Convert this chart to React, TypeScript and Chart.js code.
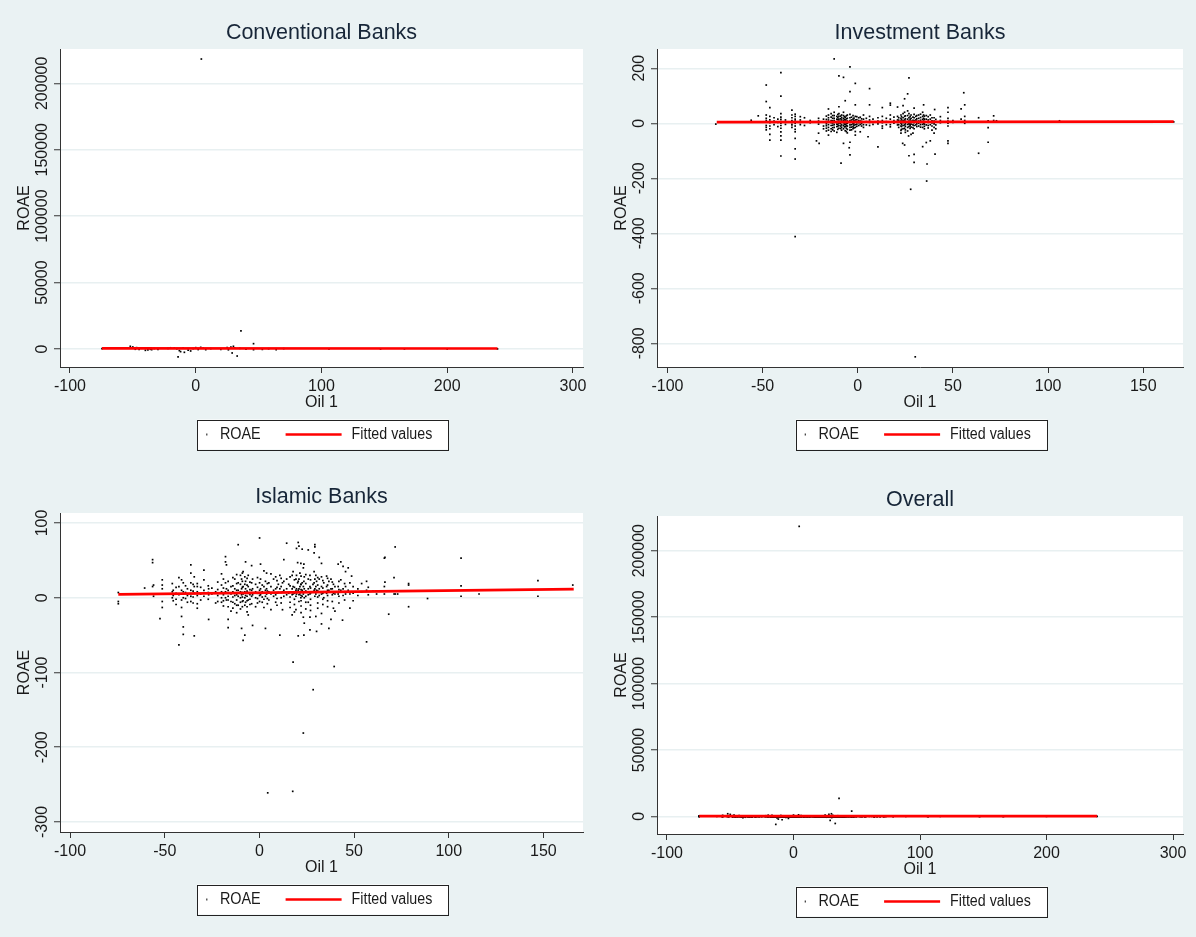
import React, { useEffect, useRef } from "react";
import { Chart, registerables } from "chart.js";

Chart.register(...registerables);

// ---------------- tick labels ----------------
const wideOilTicks = [-100, 0, 100, 200, 300];
const narrowOilTicks = [-100, -50, 0, 50, 100, 150];
const bigRoaeTicks = [0, 50000, 100000, 150000, 200000];
const investmentRoaeTicks = [-800, -600, -400, -200, 0, 200];
const islamicRoaeTicks = [-300, -200, -100, 0, 100];

// ---------------- observations: [Oil 1, [ROAE values]] ----------------
const conventionalObs: [number, number[]][] = [
  [-74.5, [300]], [-56, [800]], [-52, [2000]], [-50, [1500]], [-48, [500, -200]],
  [-47, [1000]], [-45, [-300]], [-43, [600]], [-40, [-1000]], [-38, [-600]],
  [-36, [-200]], [-35, [-500]], [-33, [400]], [-30, [-400]], [-22, [500]],
  [-20, [900]], [-17, [800]], [-15, [200]], [-14, [-6000]], [-13, [-1200]],
  [-12, [-2000]], [-10, [700]], [-9, [-2500]], [-6, [-800]], [-4, [-1500]],
  [-2, [300]], [0, [1000]], [2, [-400]], [4, [1200]], [4.5, [218300]],
  [6, [600]], [8, [-500]], [12, [300]], [20, [-300]], [25, [1000]],
  [26, [-600]], [28, [1500]], [29, [-3000]], [30, [2000]], [31, [800]],
  [33, [-5300]], [35, [500]], [36, [13600]], [40, [-200]], [46, [4000, -500]],
  [53, [-300]], [58, [200]], [64, [-500]], [70, [300]], [106, [100]],
  [147, [50]], [166, [80]], [200, [40]], [240, [60]],
];

const investmentObs: [number, number[]][] = [
  [-74.6, [-3]],
  [-56, [11, 5]],
  [-52.3, [27]],
  [-48.1, [139, 79, 30, 18, 10, 5, -8, -15, -24]],
  [-46.2, [57, 25, 12, 2, -10, -20, -40, -61]],
  [-44, [20, 8, -5]],
  [-42, [15, 3, -12]],
  [-40.4, [184, 99, 35, 22, 14, 6, 0, -8, -18, -31, -46, -61, -119]],
  [-38, [12, -4]],
  [-34.6, [48, 30, 20, 10, 2, -6, -15]],
  [-32.9, [33, 25, 15, 8, 0, -10, -22, -31, -55, -93, -130, -412]],
  [-30.2, [24, 12, 3, -5]],
  [-28, [20, 5, -8]],
  [-25, [10, 2]],
  [-21.7, [-64]],
  [-20.6, [18, 8, -3, -36]],
  [-20.3, [-73]],
  [-18, [15, 5, -10, -20]],
  [-16.5, [26, 14, 6, -2, -9, -18, -28]],
  [-15.4, [52, 30, 20, 12, 5, -5, -15, -25, -43]],
  [-14, [35, 22, 10, 2, -8, -20, -30]],
  [-13.2, [28, 18, 9, 1, -7, -16, -24]],
  [-12.4, [234, 40, 28, 18, 10, 3, -5, -15, -28]],
  [-11, [25, 15, 6, -3, -12, -33]],
  [-10.5, [32, 21, 13, 5, -4, -11, -22]],
  [-9.9, [172, 60, 35, 25, 15, 8, 0, -8, -18]],
  [-9, [26, 16, 7, -1, -10, -19]],
  [-8.8, [-145]],
  [-8.5, [30, 20, 12, 4, -6, -15, -25]],
  [-7.5, [167, 40, 28, 18, 10, 2, -8, -20, -73]],
  [-7, [24, 14, 6, -3, -13]],
  [-6.6, [82, 22, 12, 5, -4, -12, -27]],
  [-6, [27, 16, 7, -2, -9, -18, -30]],
  [-5.5, [30, 18, 8, 0, -10, -22, -35]],
  [-4.5, [-89]],
  [-4.1, [205, 115, 32, 20, 10, 3, -6, -15, -25, -69, -115]],
  [-3.3, [22, 12, 4, -5, -14, -24]],
  [-2.5, [28, 15, 6, -2, -12, -20]],
  [-2, [19, 9, 1, -7, -17]],
  [-1.3, [145, 67, 25, 12, 4, -5, -15, -30, -43]],
  [-0.5, [24, 13, 5, -3, -11]],
  [0.5, [20, 10, 2, -8]],
  [1.3, [22, 8, -4, -31]],
  [2, [16, 7, -1, -10]],
  [3, [30, 15, 5, -5, -15]],
  [4.5, [18, 6, -6]],
  [5.4, [-49]],
  [6.2, [126, 67, 25, 12, 3, -8]],
  [8, [15, 4, -4]],
  [10.6, [20, 8, -2, -86]],
  [12.9, [57, 25, 10, 2, -10, -18]],
  [15, [18, 6, -5]],
  [17.1, [73, 66, 30, 15, 5, -5, -13]],
  [19, [22, 10, 0]],
  [20.9, [59, 25, 12, 3, -6]],
  [21.5, [20, 11, 4, -5, -15]],
  [22.7, [30, 18, 8, 0, -10, -26, -36]],
  [23, [24, 13, 5, -4, -12, -22]],
  [23.6, [-73]],
  [23.8, [64, 35, 20, 10, 2, -8, -20]],
  [24.6, [89, 40, 25, 12, 4, -6, -18, -79]],
  [25, [27, 16, 7, -2, -11, -24, -33]],
  [26.2, [107, 45, 28, 15, 6, -4, -15, -28]],
  [26.7, [-46]],
  [26.9, [165, 35, 20, 8, -2, -12, -118]],
  [27.5, [25, 14, 6, -4, -9, -19]],
  [27.8, [-240]],
  [28, [30, 18, 8, -3, -14, -40]],
  [29, [22, 11, 3, -6, -16, -36]],
  [29.6, [55, 32, 20, 10, 2, -8, -20, -113, -142]],
  [30.2, [-849]],
  [30.5, [25, 12, 4, -6]],
  [31, [28, 16, 7, -2, -12]],
  [32, [30, 18, 8, 0, -10]],
  [33, [33, 21, 11, 3, -5, -14]],
  [34.1, [40, 25, 14, 5, -4, -15, -85]],
  [34.6, [67, 30, 18, 8, 0]],
  [35, [26, 15, 6, -3, -11, -20]],
  [36, [28, 15, 5, -6, -70]],
  [36.2, [-210]],
  [36.4, [-148]],
  [37, [24, 12, 3, -8, -17]],
  [38.1, [30, 15, 5, -5, -64]],
  [39, [20, 9, 1, -10, -25]],
  [40.1, [20, 8, -2, -15, -36]],
  [40.4, [50]],
  [40.6, [-112]],
  [41, [14, 4, -6, -20]],
  [43.4, [24, 10, 2]],
  [47.4, [57, 40, 18, 8, 0, -10, -64, -73]],
  [50, [10, 3]],
  [54.3, [52, 15, 5]],
  [55.7, [111]],
  [56.2, [67, 25, 10, 0]],
  [63.5, [20, 5, -109]],
  [68.5, [9, -16, -69]],
  [71.4, [27, 10]],
  [72.9, [9]],
  [106, [9]],
  [166, [5]],
];

const islamicObs: [number, number[]][] = [
  [-74.5, [7, -5, -8]],
  [-60.6, [13]],
  [-56.4, [51, 47, 15]],
  [-55.9, [17, 2]],
  [-52.5, [-28]],
  [-51.3, [24, 17, 12, 5, -5, -13]],
  [-46, [19, 8, 0]],
  [-45.5, [10, 3, -4]],
  [-44, [14, 6, -2, -9]],
  [-42.5, [27, 15, 4, -63]],
  [-41.1, [24, 10, -3, -13, -25]],
  [-40.2, [20, 8, 0, -39, -49]],
  [-39, [16, 7, -1]],
  [-38, [12, 3, -6]],
  [-36.2, [44, 33, 20, 10, 2, -5]],
  [-35, [18, 9, 1, -7]],
  [-34.4, [28, 15, 6, -51]],
  [-32.8, [19, 15, 8, 3, -8, -14]],
  [-31, [14, 5, -3]],
  [-29.3, [37, 24, 10, 2]],
  [-27, [16, 7, -2]],
  [-26.8, [12, 4, -29]],
  [-25.1, [13, 5]],
  [-23.1, [8, -7]],
  [-22, [21, 11, 3, -5]],
  [-20, [32, 17, 8, 0, -6]],
  [-19, [25, 13, 4, -4, -11]],
  [-17.9, [55, 48, 20, 8, 0]],
  [-17.4, [44, 12, -3]],
  [-16.5, [22, 10, 2, -3, -12, -29, -40]],
  [-15, [15, 5, -5, -18]],
  [-14, [27, 16, 8, 1, -6, -14]],
  [-13, [25, 12, 3, -8]],
  [-12, [31, 19, 10, 4, -3, -10, -20]],
  [-11.2, [71, 20, 10, 2, -10]],
  [-10, [30, 18, 8, 0, -6, -15]],
  [-9.4, [25, 12, 4, -41]],
  [-9, [33, 22, 14, 7, 1, -5, -12]],
  [-8.6, [35, 15, 5, -4, -57]],
  [-7.7, [28, 18, 8, 0, -10, -50]],
  [-7.3, [48, 22, 12, 3, -6]],
  [-6.5, [26, 17, 9, 2, -4, -12, -19]],
  [-5.9, [30, 15, 6, -3, -23]],
  [-5, [21, 11, 4, -2, -9]],
  [-4.1, [43, 20, 10, 2, -8]],
  [-3.6, [25, 12, 4, -37]],
  [-2, [18, 8, 0, -12]],
  [-1, [27, 14, 6, -1, -7]],
  [0.1, [80, 20, 10, 3, -5]],
  [0.6, [45, 25, 12, 4]],
  [1.5, [17, 8, 1, -6]],
  [2.4, [36, 15, 6, -2, -13]],
  [3.2, [22, 10, 2, -41]],
  [3.8, [33, 12, 5]],
  [4.2, [19, 9, -1, -8]],
  [4.4, [-261]],
  [5, [20, 8, -3]],
  [6.1, [32, 15, 5, -16]],
  [7.5, [25, 10, 2]],
  [8.6, [28, 12, 4, -6]],
  [9.3, [23, 14, 6, -1, -10]],
  [10, [18, 7]],
  [10.8, [30, 12, -50]],
  [11.5, [26, 15, 7, 0, -7]],
  [12.2, [20, 8, -16]],
  [12.9, [51, 22, 10, 2]],
  [14.4, [73, 25, 12, 4]],
  [15.5, [18, 6]],
  [16.2, [28, 16, 8, 1, -6, -13]],
  [17.3, [30, 12, 4, -23]],
  [17.6, [-259]],
  [17.8, [35, 15, 5, -86]],
  [18.5, [24, 14, 6, -2, -9, -19]],
  [19.3, [25, 10, 2, -16]],
  [19.6, [66, 30, 12, 5]],
  [20.2, [47, 20, 8]],
  [20.5, [74, 22, 10, -51]],
  [20.9, [69, 25, 12, 4, -5]],
  [21.4, [33, 15, 5]],
  [21.9, [46, 18, 8, 0]],
  [22, [29, 18, 11, 3, -4, -11, -20]],
  [22.6, [65, 20, 10, 2]],
  [23.2, [40, 15, 5, -26, -181]],
  [23.5, [45, 22, 8, -50]],
  [23.7, [28, 12, 0, -34]],
  [24.5, [31, 19, 9, 2, -6, -15]],
  [25.8, [64, 25, 12, 4, -6]],
  [26.7, [30, 15, 5, -26, -43]],
  [27, [24, 13, 6, -2, -10, -17]],
  [28.3, [18, 8]],
  [28.4, [-123]],
  [28.9, [60, 35, 20, 10]],
  [29.3, [71, 68, 25, 12, 2]],
  [29.8, [30, 15, 5, -25]],
  [30.2, [22, 10, -45]],
  [30.8, [27, 17, 9, 1, -7, -14]],
  [31.6, [54, 25, 12, 3]],
  [32.8, [46, 28, 15, 5, -21, -35]],
  [33.5, [23, 13, 6, -2, -9]],
  [34, [20, 8, 0]],
  [35.5, [29, 15, 6]],
  [36, [26, 17, 10, 3, -4, -12]],
  [36.7, [22, 10, -41]],
  [37.8, [25, 12, -29]],
  [38.5, [21, 12, 4, -5]],
  [39.1, [18, 6, -14]],
  [39.5, [-92]],
  [39.9, [15, 5, -18]],
  [41.6, [45, 15, 5]],
  [42, [22, 11, 2, -7]],
  [43, [48, 24, 10]],
  [43.9, [-30]],
  [44.2, [42, 12, 3]],
  [45, [19, 8, -3]],
  [45.5, [35, 15, 5]],
  [46.9, [40, 10]],
  [47.8, [20, 5, -14]],
  [48.7, [29, 8]],
  [49.5, [15, 6, -4]],
  [52, [12, 3]],
  [54, [19, 8]],
  [56.6, [22, 10, -59]],
  [57.5, [14, 4]],
  [60, [9]],
  [61.9, [5]],
  [66, [53, 15, 5]],
  [66.3, [54, 21]],
  [68.3, [-22]],
  [71.1, [27, 5]],
  [71.7, [68, 5]],
  [73, [5]],
  [78.8, [19, 17, -12]],
  [88.8, [-1]],
  [106.5, [53, 16, 2]],
  [116, [5]],
  [147.1, [23, 2]],
  [165.5, [17]],
];

// ---------------- fitted values ----------------
const conventionalFitOil = [-74.5, 240];
const conventionalFitRoae = [480, 360];
const investmentFitOil = [-74.1, 166];
const investmentFitRoae = [4, 6];
const islamicFitOil = [-74.5, 166];
const islamicFitRoae = [4.5, 11.5];
const overallFitOil = [-74.5, 240];
const overallFitRoae = [260, 190];

// ---------------- helpers ----------------
const BG = "#eaf2f3";
const FONT = '"Liberation Sans", Arial, sans-serif';

function toPoints(obs: [number, number[]][]) {
  const out: { x: number; y: number }[] = [];
  obs.forEach(([x, ys]) => ys.forEach((y) => out.push({ x, y })));
  return out;
}
function toLine(xs: number[], ys: number[]) {
  return xs.map((x, i) => ({ x, y: ys[i] }));
}

const stataPlugin = {
  id: "stata",
  beforeDraw(chart: any) {
    const { ctx, chartArea: a } = chart;
    ctx.save();
    ctx.fillStyle = "#ffffff";
    ctx.fillRect(a.left, a.top, a.right - a.left, a.bottom - a.top);
    ctx.restore();
  },
  afterDraw(chart: any, _args: any, opts: any) {
    const { ctx, chartArea: a } = chart;
    const xs = chart.scales.x;
    const ys = chart.scales.y;
    const cx = (a.left + a.right) / 2;
    const cy = (a.top + a.bottom) / 2;
    ctx.save();
    // title
    ctx.fillStyle = "#172638";
    ctx.font = `21.5px ${FONT}`;
    ctx.textAlign = "center";
    ctx.textBaseline = "middle";
    ctx.fillText(opts.title, cx, a.top - 16);
    // x tick labels
    ctx.fillStyle = "#1a1a1a";
    ctx.font = `16px ${FONT}`;
    xs.ticks.forEach((t: any) => {
      ctx.fillText(String(t.value), xs.getPixelForValue(t.value), a.bottom + 20);
    });
    ctx.fillText("Oil 1", cx, a.bottom + 35.5);
    // y tick labels (rotated)
    ys.ticks.forEach((t: any) => {
      ctx.save();
      ctx.translate(a.left - 17.5, ys.getPixelForValue(t.value));
      ctx.rotate(-Math.PI / 2);
      ctx.fillText(String(t.value), 0, 0);
      ctx.restore();
    });
    ctx.save();
    ctx.translate(a.left - 35, cy);
    ctx.rotate(-Math.PI / 2);
    ctx.fillText("ROAE", 0, 0);
    ctx.restore();
    // legend
    const lx = cx - 124.3;
    const ly = a.bottom + 52.5;
    const lw = 251.4;
    const lh = 30;
    ctx.fillStyle = "#ffffff";
    ctx.fillRect(lx, ly, lw, lh);
    ctx.strokeStyle = "#222";
    ctx.lineWidth = 1;
    ctx.strokeRect(Math.round(lx) + 0.5, Math.round(ly) + 0.5, Math.round(lw), Math.round(lh));
    const my = ly + lh / 2;
    ctx.fillStyle = "#333";
    ctx.fillRect(lx + 9, my - 1, 1.2, 2);
    ctx.fillStyle = "#1a1a1a";
    ctx.textAlign = "left";
    ctx.font = `16px ${FONT}`;
    ctx.save();
    ctx.translate(lx + 22.7, my);
    ctx.scale(0.9, 1);
    ctx.fillText("ROAE", 0, 0);
    ctx.restore();
    ctx.strokeStyle = "rgb(255,0,0)";
    ctx.lineWidth = 2.6;
    ctx.beginPath();
    ctx.moveTo(lx + 88.4, my);
    ctx.lineTo(lx + 144.4, my);
    ctx.stroke();
    ctx.save();
    ctx.translate(lx + 154.4, my);
    ctx.scale(0.89, 1);
    ctx.fillText("Fitted values", 0, 0);
    ctx.restore();
    ctx.restore();
  },
};

type PanelCfg = {
  title: string;
  left: number;
  top: number;
  w: number;
  h: number;
  pad: { left: number; top: number; right: number; bottom: number };
  xMin: number;
  xMax: number;
  yMin: number;
  yMax: number;
  xTicks: number[];
  yTicks: number[];
  points: { x: number; y: number }[];
  fit: { x: number; y: number }[];
};

function Panel({ cfg }: { cfg: PanelCfg }) {
  const ref = useRef<HTMLCanvasElement | null>(null);
  useEffect(() => {
    if (!ref.current) return;
    const chart = new Chart(ref.current, {
      type: "scatter",
      data: {
        datasets: [
          {
            label: "Fitted values",
            data: cfg.fit,
            showLine: true,
            borderColor: "rgb(255,0,0)",
            borderWidth: 2.6,
            pointRadius: 0,
            fill: false,
            order: 0,
          } as any,
          {
            label: "ROAE",
            data: cfg.points,
            pointStyle: "rect",
            pointRadius: 1.2,
            backgroundColor: "#000",
            borderWidth: 0,
            order: 1,
          } as any,
        ],
      },
      options: {
        animation: false,
        responsive: false,
        devicePixelRatio: 1,
        events: [],
        layout: { padding: cfg.pad, autoPadding: false } as any,
        plugins: {
          legend: { display: false },
          tooltip: { enabled: false },
          stata: { title: cfg.title },
        } as any,
        scales: {
          x: {
            type: "linear",
            position: "bottom",
            min: cfg.xMin,
            max: cfg.xMax,
            afterBuildTicks: (s: any) => {
              s.ticks = cfg.xTicks.map((v) => ({ value: v }));
            },
            afterFit: (s: any) => {
              s.height = 0;
            },
            ticks: { display: false },
            grid: { drawOnChartArea: false, drawTicks: true, tickLength: 6, tickColor: "#333", tickWidth: 1 },
            border: { display: true, color: "#333", width: 1 },
          },
          y: {
            type: "linear",
            position: "left",
            min: cfg.yMin,
            max: cfg.yMax,
            afterBuildTicks: (s: any) => {
              s.ticks = cfg.yTicks.map((v) => ({ value: v }));
            },
            afterFit: (s: any) => {
              s.width = 0;
            },
            ticks: { display: false },
            grid: { color: "#e8f0f1", lineWidth: 1.5, drawTicks: true, tickLength: 6, tickColor: "#333", tickWidth: 1 },
            border: { display: true, color: "#333", width: 1 },
          },
        },
      } as any,
      plugins: [stataPlugin as any],
    });
    return () => chart.destroy();
  }, [cfg]);
  return (
    <canvas
      ref={ref}
      width={cfg.w}
      height={cfg.h}
      style={{ position: "absolute", left: cfg.left, top: cfg.top, width: cfg.w, height: cfg.h }}
    />
  );
}

const conventionalPoints = toPoints(conventionalObs);
const investmentPoints = toPoints(investmentObs);
const islamicPoints = toPoints(islamicObs);
const overallPoints = [...conventionalPoints, ...investmentPoints, ...islamicPoints];

const panels: PanelCfg[] = [
  {
    title: "Conventional Banks",
    left: 0, top: 0, w: 598, h: 468,
    pad: { left: 60, top: 49, right: 15, bottom: 101 },
    xMin: -107.9, xMax: 308, yMin: -13560, yMax: 225850,
    xTicks: wideOilTicks, yTicks: bigRoaeTicks,
    points: conventionalPoints,
    fit: toLine(conventionalFitOil, conventionalFitRoae),
  },
  {
    title: "Investment Banks",
    left: 598, top: 0, w: 598, h: 468,
    pad: { left: 59, top: 49, right: 13, bottom: 101 },
    xMin: -105.5, xMax: 170.9, yMin: -886, yMax: 270,
    xTicks: narrowOilTicks, yTicks: investmentRoaeTicks,
    points: investmentPoints,
    fit: toLine(investmentFitOil, investmentFitRoae),
  },
  {
    title: "Islamic Banks",
    left: 0, top: 468, w: 598, h: 469,
    pad: { left: 60, top: 45, right: 15, bottom: 105 },
    xMin: -105.3, xMax: 170.9, yMin: -313.4, yMax: 113.4,
    xTicks: narrowOilTicks, yTicks: islamicRoaeTicks,
    points: islamicPoints,
    fit: toLine(islamicFitOil, islamicFitRoae),
  },
  {
    title: "Overall",
    left: 598, top: 468, w: 598, h: 469,
    pad: { left: 59, top: 48, right: 13, bottom: 103 },
    xMin: -107.9, xMax: 307.9, yMin: -13230, yMax: 226100,
    xTicks: wideOilTicks, yTicks: bigRoaeTicks,
    points: overallPoints,
    fit: toLine(overallFitOil, overallFitRoae),
  },
];

export default function App() {
  return (
    <div
      style={{
        position: "fixed",
        left: 0,
        top: 0,
        width: 1196,
        height: 937,
        background: BG,
        overflow: "hidden",
      }}
    >
      {panels.map((p) => (
        <Panel key={p.title} cfg={p} />
      ))}
    </div>
  );
}
